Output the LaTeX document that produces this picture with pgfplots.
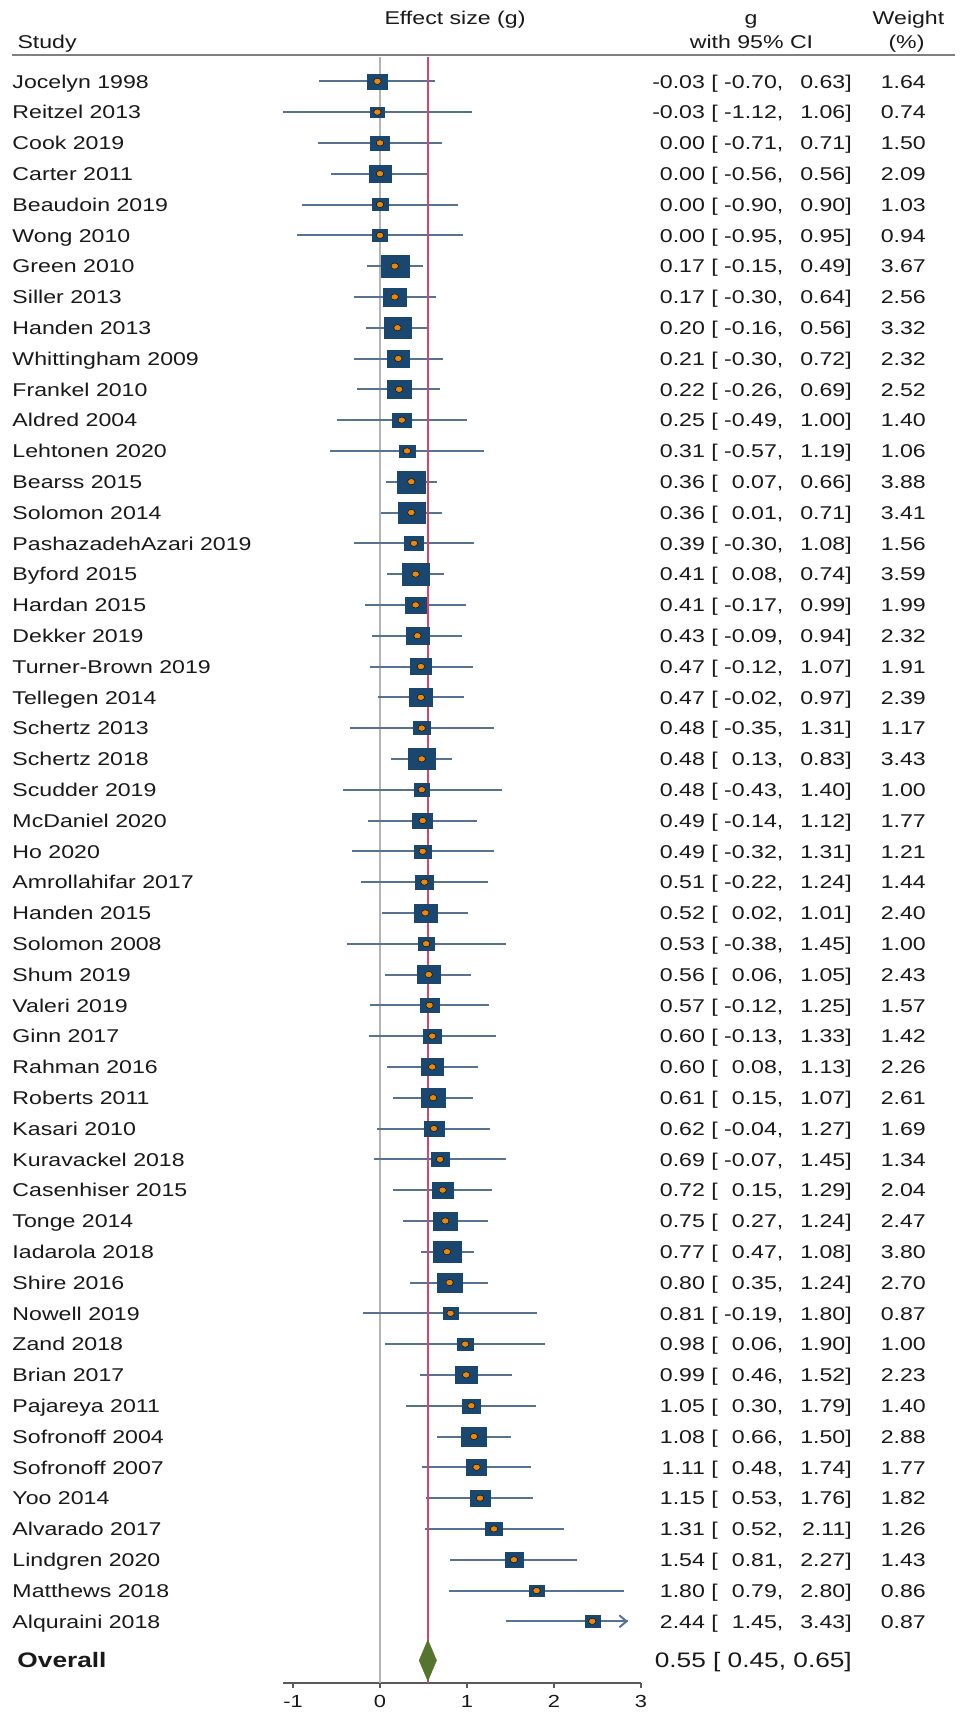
\documentclass[border=0pt]{standalone}
\usepackage{pgfplots}
\pgfplotsset{compat=1.18}
\usepackage{pgfplotstable}
\usepackage{fontspec}
\setmainfont{Liberation Sans}[FakeStretch=1.25]
\usetikzlibrary{arrows.meta}
\definecolor{boxc}{HTML}{1A476F}
\definecolor{cic}{RGB}{85,115,145}
\definecolor{dotc}{HTML}{E8870E}
\definecolor{redl}{RGB}{214,70,108}
\definecolor{diac}{RGB}{85,117,47}
\definecolor{zeroc}{RGB}{180,180,180}
\definecolor{rulec}{RGB}{128,128,128}
\definecolor{axc}{RGB}{90,90,90}
\definecolor{txt}{RGB}{25,25,25}

\pgfplotstableread{
row g lo hi w
1 -0.03 -0.70 0.63 1.64
2 -0.03 -1.12 1.06 0.74
3 0.00 -0.71 0.71 1.50
4 0.00 -0.56 0.56 2.09
5 0.00 -0.90 0.90 1.03
6 0.00 -0.95 0.95 0.94
7 0.17 -0.15 0.49 3.67
8 0.17 -0.30 0.64 2.56
9 0.20 -0.16 0.56 3.32
10 0.21 -0.30 0.72 2.32
11 0.22 -0.26 0.69 2.52
12 0.25 -0.49 1.00 1.40
13 0.31 -0.57 1.19 1.06
14 0.36 0.07 0.66 3.88
15 0.36 0.01 0.71 3.41
16 0.39 -0.30 1.08 1.56
17 0.41 0.08 0.74 3.59
18 0.41 -0.17 0.99 1.99
19 0.43 -0.09 0.94 2.32
20 0.47 -0.12 1.07 1.91
21 0.47 -0.02 0.97 2.39
22 0.48 -0.35 1.31 1.17
23 0.48 0.13 0.83 3.43
24 0.48 -0.43 1.40 1.00
25 0.49 -0.14 1.12 1.77
26 0.49 -0.32 1.31 1.21
27 0.51 -0.22 1.24 1.44
28 0.52 0.02 1.01 2.40
29 0.53 -0.38 1.45 1.00
30 0.56 0.06 1.05 2.43
31 0.57 -0.12 1.25 1.57
32 0.60 -0.13 1.33 1.42
33 0.60 0.08 1.13 2.26
34 0.61 0.15 1.07 2.61
35 0.62 -0.04 1.27 1.69
36 0.69 -0.07 1.45 1.34
37 0.72 0.15 1.29 2.04
38 0.75 0.27 1.24 2.47
39 0.77 0.47 1.08 3.80
40 0.80 0.35 1.24 2.70
41 0.81 -0.19 1.80 0.87
42 0.98 0.06 1.90 1.00
43 0.99 0.46 1.52 2.23
44 1.05 0.30 1.79 1.40
45 1.08 0.66 1.50 2.88
46 1.11 0.48 1.74 1.77
47 1.15 0.53 1.76 1.82
48 1.31 0.52 2.11 1.26
49 1.54 0.81 2.27 1.43
50 1.80 0.79 2.80 0.86
51 2.44 1.45 3.43 0.87
}\data

\newcommand\fs{\fontsize{18.5pt}{22pt}\selectfont}
\newcommand\fo{\fontsize{21pt}{25pt}\selectfont}
\newcommand\ft{\fontsize{17.5pt}{21pt}\selectfont}
\newcommand\ci[3]{#1\ [\ \phantom{-0.00}\llap{#2},\hspace{17pt}\phantom{0.00}\llap{#3}]}
\newcommand\ovci{0.55 [\ 0.45,\ 0.65]}

\pgfplotsset{fp/.style={scale only axis, width=358.44pt, height=1626.24pt,
  xmin=-1.12, xmax=3, ymin=-53, ymax=-0.2,
  at={(282.56pt,-1682.9pt)}, anchor=south west, clip=false,
  ytick={-1,-2,...,-51}, ytick style={draw=none},
  extra y ticks={-52.27}}}

\begin{document}
\begin{tikzpicture}
\path[use as bounding box] (0pt,0pt) rectangle (962pt,-1712pt);
\node[anchor=base, font=\fs, text=txt, inner sep=0pt] at (455pt,-25pt) {Effect size (g)};
\node[anchor=base west, font=\fs, text=txt, inner sep=0pt] at (17.3pt,-48.3pt) {Study};
\node[anchor=base, font=\fs, text=txt, inner sep=0pt] at (751pt,-25pt) {g};
\node[anchor=base, font=\fs, text=txt, inner sep=0pt] at (751.5pt,-48.3pt) {with 95\% CI};
\node[anchor=base, font=\fs, text=txt, inner sep=0pt] at (908.5pt,-25pt) {Weight};
\node[anchor=base, font=\fs, text=txt, inner sep=0pt] at (906.5pt,-48.3pt) {(\%)};
\draw[rulec, line width=2pt] (12.3pt,-55pt) -- (955pt,-55pt);

\begin{axis}[fp,
  axis x line*=bottom, axis y line*=left,
  y axis line style={draw=none},
  x axis line style={axc, line width=1.5pt},
  xtick={-1,0,1,2,3}, xticklabels={-1,0,1,2,3},
  xtick style={axc, line width=1.2pt}, tick align=outside, major tick length=5pt,
  xticklabel style={font=\ft, text=txt, anchor=base, inner sep=0pt, yshift=-20pt},
  yticklabels={Jocelyn 1998, Reitzel 2013, Cook 2019, Carter 2011, Beaudoin 2019, Wong 2010, Green 2010, Siller 2013, Handen 2013, Whittingham 2009, Frankel 2010, Aldred 2004, Lehtonen 2020, Bearss 2015, Solomon 2014, PashazadehAzari 2019, Byford 2015, Hardan 2015, Dekker 2019, Turner-Brown 2019, Tellegen 2014, Schertz 2013, Schertz 2018, Scudder 2019, McDaniel 2020, Ho 2020, Amrollahifar 2017, Handen 2015, Solomon 2008, Shum 2019, Valeri 2019, Ginn 2017, Rahman 2016, Roberts 2011, Kasari 2010, Kuravackel 2018, Casenhiser 2015, Tonge 2014, Iadarola 2018, Shire 2016, Nowell 2019, Zand 2018, Brian 2017, Pajareya 2011, Sofronoff 2004, Sofronoff 2007, Yoo 2014, Alvarado 2017, Lindgren 2020, Matthews 2018, Alquraini 2018},
  yticklabel style={font=\fs, text=txt, anchor=base west, inner sep=0pt, xshift=-265.26pt, yshift=-6.7pt},
  extra y tick labels={\textbf{Overall}},
  extra y tick style={major tick length=0pt, yticklabel style={font=\fo}},
]
\addplot[zeroc, line width=1.5pt] coordinates {(0,-0.2) (0,-53)};
\addplot[draw=none, error bars/.cd, x dir=both, x explicit, error mark=none,
  error bar style={cic, line width=2pt}]
  table[x=g, y expr=-\thisrow{row},
    x error plus expr={min(\thisrow{hi},2.85)-\thisrow{g}},
    x error minus expr={\thisrow{g}-\thisrow{lo}}] {\data};
\addplot[cic, line width=2pt, -{Straight Barb[length=7pt, width=12pt]}] coordinates {(2.6,-51) (2.85,-51)};
\addplot[redl, line width=1.5pt] coordinates {(0.55,-0.2) (0.55,-53)};
\addplot[scatter, only marks, mark=square*,
  scatter/use mapped color={draw=boxc, fill=boxc},
  visualization depends on={0.95+5.1*sqrt(\thisrow{w}) \as \msz},
  scatter/@pre marker code/.append style={/tikz/mark size=\msz},
  mark options={xscale=1.3}]
  table[x=g, y expr=-\thisrow{row}] {\data};
\addplot[only marks, mark=*, mark size=3.1pt, mark options={xscale=1.2, fill=dotc, draw=none}]
  table[x=g, y expr=-\thisrow{row}] {\data};
\addplot[fill=diac, draw=diac] coordinates {(0.45,-52.27) (0.55,-51.6) (0.65,-52.27) (0.55,-52.94)} -- cycle;
\end{axis}

\begin{axis}[fp, axis line style={draw=none}, xtick=\empty, yticklabel pos=right,
  yticklabels={{\ci{-0.03}{-0.70}{0.63}},{\ci{-0.03}{-1.12}{1.06}},{\ci{0.00}{-0.71}{0.71}},{\ci{0.00}{-0.56}{0.56}},{\ci{0.00}{-0.90}{0.90}},{\ci{0.00}{-0.95}{0.95}},{\ci{0.17}{-0.15}{0.49}},{\ci{0.17}{-0.30}{0.64}},{\ci{0.20}{-0.16}{0.56}},{\ci{0.21}{-0.30}{0.72}},{\ci{0.22}{-0.26}{0.69}},{\ci{0.25}{-0.49}{1.00}},{\ci{0.31}{-0.57}{1.19}},{\ci{0.36}{0.07}{0.66}},{\ci{0.36}{0.01}{0.71}},{\ci{0.39}{-0.30}{1.08}},{\ci{0.41}{0.08}{0.74}},{\ci{0.41}{-0.17}{0.99}},{\ci{0.43}{-0.09}{0.94}},{\ci{0.47}{-0.12}{1.07}},{\ci{0.47}{-0.02}{0.97}},{\ci{0.48}{-0.35}{1.31}},{\ci{0.48}{0.13}{0.83}},{\ci{0.48}{-0.43}{1.40}},{\ci{0.49}{-0.14}{1.12}},{\ci{0.49}{-0.32}{1.31}},{\ci{0.51}{-0.22}{1.24}},{\ci{0.52}{0.02}{1.01}},{\ci{0.53}{-0.38}{1.45}},{\ci{0.56}{0.06}{1.05}},{\ci{0.57}{-0.12}{1.25}},{\ci{0.60}{-0.13}{1.33}},{\ci{0.60}{0.08}{1.13}},{\ci{0.61}{0.15}{1.07}},{\ci{0.62}{-0.04}{1.27}},{\ci{0.69}{-0.07}{1.45}},{\ci{0.72}{0.15}{1.29}},{\ci{0.75}{0.27}{1.24}},{\ci{0.77}{0.47}{1.08}},{\ci{0.80}{0.35}{1.24}},{\ci{0.81}{-0.19}{1.80}},{\ci{0.98}{0.06}{1.90}},{\ci{0.99}{0.46}{1.52}},{\ci{1.05}{0.30}{1.79}},{\ci{1.08}{0.66}{1.50}},{\ci{1.11}{0.48}{1.74}},{\ci{1.15}{0.53}{1.76}},{\ci{1.31}{0.52}{2.11}},{\ci{1.54}{0.81}{2.27}},{\ci{1.80}{0.79}{2.80}},{\ci{2.44}{1.45}{3.43}}},
  yticklabel style={font=\fs, text=txt, anchor=base east, inner sep=0pt, xshift=211pt, yshift=-6.7pt},
  extra y tick labels={\ovci},
  extra y tick style={major tick length=0pt, yticklabel style={font=\fo}},
]
\addplot[draw=none] coordinates {(0,-1)};
\end{axis}

\begin{axis}[fp, axis line style={draw=none}, xtick=\empty, yticklabel pos=right,
  yticklabels={1.64,0.74,1.50,2.09,1.03,0.94,3.67,2.56,3.32,2.32,2.52,1.40,1.06,3.88,3.41,1.56,3.59,1.99,2.32,1.91,2.39,1.17,3.43,1.00,1.77,1.21,1.44,2.40,1.00,2.43,1.57,1.42,2.26,2.61,1.69,1.34,2.04,2.47,3.80,2.70,0.87,1.00,2.23,1.40,2.88,1.77,1.82,1.26,1.43,0.86,0.87},
  yticklabel style={font=\fs, text=txt, anchor=base east, inner sep=0pt, xshift=285pt, yshift=-6.7pt},
  extra y tick labels={{}},
  extra y tick style={major tick length=0pt},
]
\addplot[draw=none] coordinates {(0,-1)};
\end{axis}
\end{tikzpicture}
\end{document}
